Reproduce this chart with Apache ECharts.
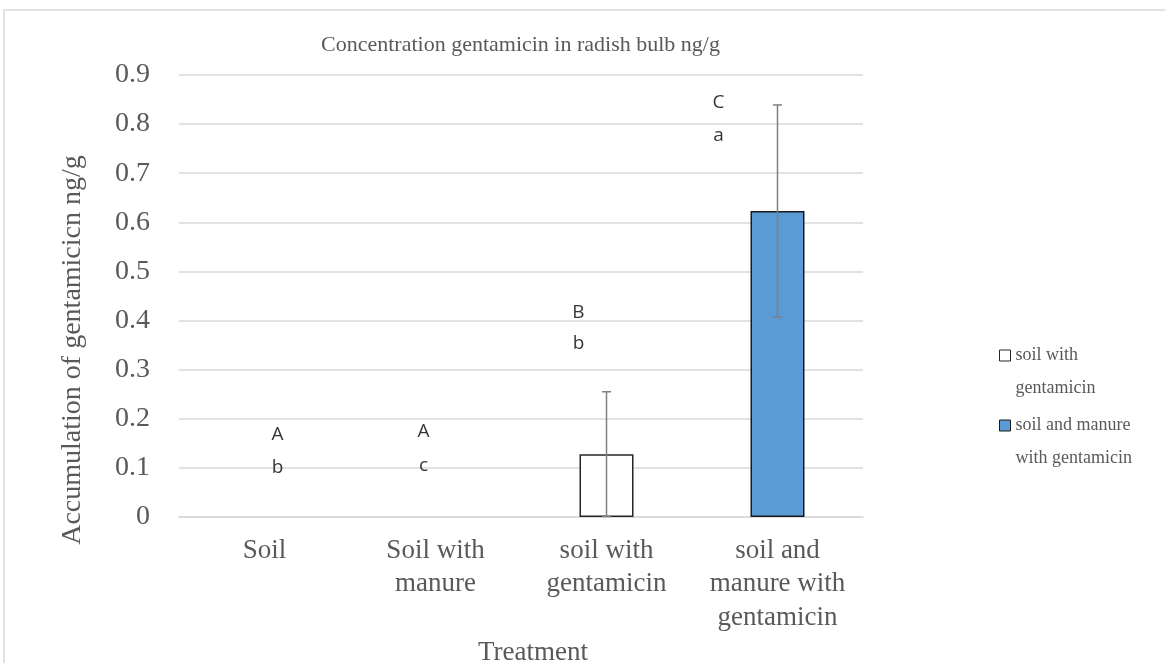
<!DOCTYPE html>
<html>
<head>
<meta charset="utf-8">
<script src="https://cdn.jsdelivr.net/npm/echarts@6/dist/echarts.min.js"></script>
<style>
html,body{margin:0;padding:0;background:#fff;}
#chart{width:1165px;height:663px;}
</style>
</head>
<body>
<div id="chart"></div>
<script>
// ---- data ----
const categories = ['Soil', 'Soil with\nmanure', 'soil with\ngentamicin', 'soil and\nmanure with\ngentamicin'];
const seriesNames = ['soil with gentamicin', 'soil and manure with gentamicin'];
const legendLabels = ['soil with\ngentamicin', 'soil and manure\nwith gentamicin'];
const whiteValues = [null, null, 0.128, null];
const blueValues = [null, null, null, 0.623];
const whiteErr = [null, null, 0.127, null];
const blueErr = [null, null, null, 0.216];
const upperLetters = ['A', 'A', 'B', 'C'];
const upperY = [0.168, 0.174, 0.417, 0.843];
const lowerLetters = ['b', 'c', 'b', 'a'];
const lowerY = [0.101, 0.105, 0.354, 0.777];
const yTicks = [0, 0.1, 0.2, 0.3, 0.4, 0.5, 0.6, 0.7, 0.8, 0.9];

// ---- style (not data) ----
const letterDx = [13, -12, -28, -59];
const serif = 'Liberation Serif';
const grey = '#595959';

function errData(vals, errs) {
  const out = [];
  vals.forEach((v, i) => { if (v != null && errs[i] != null) out.push([i, v, errs[i]]); });
  return out;
}
function letterData(letters, ys) {
  return letters.map((l, i) => ({ value: [i, ys[i]], name: l, label: { offset: [letterDx[i], 0] } }));
}
function errRender(params, api) {
  const x = api.value(0), y = api.value(1), e = api.value(2);
  const top = api.coord([x, y + e]);
  const bot = api.coord([x, Math.max(0, y - e)]);
  const cap = 4.5;
  const st = { stroke: '#7f7f7f', lineWidth: 1.5 };
  return {
    type: 'group',
    children: [
      { type: 'line', shape: { x1: top[0], y1: top[1], x2: bot[0], y2: bot[1] }, style: st },
      { type: 'line', shape: { x1: top[0] - cap, y1: top[1], x2: top[0] + cap, y2: top[1] }, style: st },
      { type: 'line', shape: { x1: bot[0] - cap, y1: bot[1], x2: bot[0] + cap, y2: bot[1] }, style: st }
    ]
  };
}

const chart = echarts.init(document.getElementById('chart'), null, { renderer: 'canvas' });
chart.setOption({
  animation: false,
  backgroundColor: '#fff',
  graphic: [{
    type: 'rect', shape: { x: 4, y: 10, width: 1200, height: 700 },
    style: { fill: 'none', stroke: '#d9d9d9', lineWidth: 1.5 }, silent: true, z: -10
  }],
  title: {
    text: 'Concentration gentamicin in radish bulb ng/g',
    left: 316, top: 29,
    textStyle: { fontFamily: serif, fontSize: 22, fontWeight: 'normal', color: grey }
  },
  grid: { left: 179, right: 302, top: 75, bottom: 146, containLabel: false, outerBoundsMode: 'none' },
  legend: {
    orient: 'vertical', left: 999, top: 306, padding: 0,
    itemWidth: 11, itemHeight: 11, itemGap: -29, icon: 'rect',
    data: seriesNames,
    itemStyle: { borderWidth: 1 },
    formatter: name => '\n' + legendLabels[seriesNames.indexOf(name)],
    textStyle: { fontFamily: serif, fontSize: 18, color: grey, lineHeight: 33 }
  },
  xAxis: {
    type: 'category', data: categories,
    axisLine: { lineStyle: { color: '#d9d9d9', width: 1.5 } },
    axisTick: { show: false },
    axisLabel: { fontFamily: serif, fontSize: 27, color: grey, lineHeight: 33.5, margin: 17, interval: 0 },
    name: 'Treatment', nameLocation: 'middle', nameGap: 111,
    nameTextStyle: { fontFamily: serif, fontSize: 27, color: grey, padding: [0, 0, 0, 24] }
  },
  yAxis: {
    type: 'value', min: 0, max: 0.9, interval: 0.1,
    axisLine: { show: false }, axisTick: { show: false },
    splitLine: { lineStyle: { color: '#d9d9d9', width: 1.5 } },
    axisLabel: {
      fontFamily: serif, fontSize: 28, color: grey, margin: 29,
      formatter: v => { const t = yTicks.find(k => Math.abs(k - v) < 1e-6); return t === 0 ? '0' : t.toFixed(1); }
    },
    name: 'Accumulation of gentamicicn ng/g', nameLocation: 'middle', nameGap: 92, nameRotate: 90,
    nameTextStyle: { fontFamily: serif, fontSize: 28, color: grey, padding: [0, 108, 0, 0] }
  },
  series: [
    {
      name: seriesNames[0], type: 'bar', data: whiteValues, barWidth: 54, barGap: '-100%',
      itemStyle: { color: '#ffffff', borderColor: '#262626', borderWidth: 1.5 }
    },
    {
      name: seriesNames[1], type: 'bar', data: blueValues, barWidth: 54,
      itemStyle: { color: '#5b9bd5', borderColor: '#1a1a1a', borderWidth: 1.5 }
    },
    {
      type: 'custom', renderItem: errRender, data: errData(whiteValues, whiteErr).concat(errData(blueValues, blueErr)), z: 5,
      silent: true
    },
    {
      type: 'scatter', symbolSize: 1, itemStyle: { color: 'rgba(0,0,0,0)' }, silent: true,
      data: letterData(upperLetters, upperY).concat(letterData(lowerLetters, lowerY)),
      label: {
        show: true, position: 'inside', formatter: p => p.name,
        fontFamily: 'Open Sans', fontSize: 19, color: '#000'
      }
    }
  ]
});
</script>
</body>
</html>
